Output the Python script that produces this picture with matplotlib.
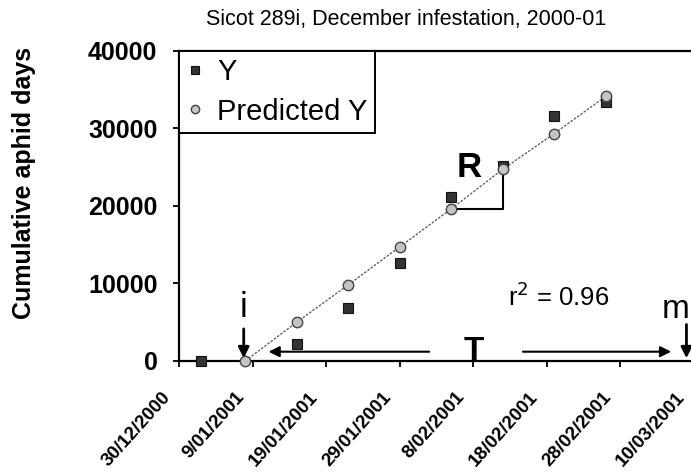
import matplotlib
matplotlib.use("Agg")
import matplotlib.pyplot as plt
import matplotlib.transforms as mtransforms
import pandas as pd

plt.rcParams['font.family'] = ['Liberation Sans', 'DejaVu Sans']

# ---- data ----
start_date = '30/12/2000'
obs_dates = ['2/01/2001', '15/01/2001', '22/01/2001', '29/01/2001',
             '5/02/2001', '12/02/2001', '19/02/2001', '26/02/2001']
obs_y = [0, 2140, 6870, 12590, 21170, 25130, 31570, 33410]
pred_dates = ['8/01/2001', '15/01/2001', '22/01/2001', '29/01/2001',
              '5/02/2001', '12/02/2001', '19/02/2001', '26/02/2001']
pred_y = [0, 5000, 9800, 14700, 19600, 24700, 29300, 34100]
tick_dates = ['30/12/2000', '9/01/2001', '19/01/2001', '29/01/2001',
              '8/02/2001', '18/02/2001', '28/02/2001', '10/03/2001']
y_ticks = [0, 10000, 20000, 30000, 40000]
title = 'Sicot 289i, December infestation, 2000-01'
y_label = 'Cumulative aphid days'
r2_text = 'r$^2$ = 0.96'

t0 = pd.to_datetime(start_date, dayfirst=True)
def days(lst):
    return [(pd.to_datetime(d, dayfirst=True) - t0).days for d in lst]

ox = days(obs_dates)
px = days(pred_dates)
tx = days(tick_dates)

W, H = 691, 475
fig = plt.figure(figsize=(W / 100, H / 100), dpi=100)
left, right, top, bottom = 179, 693.8, 50.7, 361
ax = fig.add_axes([left / W, 1 - bottom / H, (right - left) / W, (bottom - top) / H])

ax.plot(px, pred_y, linestyle=(0, (2, 1.2)), lw=0.9, color='#555555', zorder=2)
ax.plot(ox, obs_y, linestyle='none', marker='s', markersize=7.5,
        markerfacecolor='#333333', markeredgecolor='#111111', markeredgewidth=0.8,
        label='Y', clip_on=False, zorder=3)
ax.plot(px, pred_y, linestyle='none', marker='o', markersize=7.5,
        markerfacecolor='#c4c4c4', markeredgecolor='#444444', markeredgewidth=1,
        label='Predicted Y', clip_on=False, zorder=4)

ax.set_xlim(tx[0], tx[-1])
ax.set_ylim(y_ticks[0], y_ticks[-1])
ax.set_xticks(tx)
ax.set_xticklabels(tick_dates, rotation=48, ha='right', fontsize=13.5, fontweight='bold')
ax.set_yticks(y_ticks)
ax.set_yticklabels([str(v) for v in y_ticks], fontsize=18, fontweight='bold')
ax.tick_params(axis='x', length=4, width=1.3, pad=16, direction='out')
ax.tick_params(axis='y', length=4.5, width=1.3, pad=11, direction='out')
shift = mtransforms.ScaledTranslation(-5 / 100, 0, fig.dpi_scale_trans)
for lab in ax.get_xticklabels():
    lab.set_transform(lab.get_transform() + shift)

ax.spines['right'].set_visible(False)
for s in ['left', 'top', 'bottom']:
    ax.spines[s].set_linewidth(1.6)
    ax.spines[s].set_color('black')

leg = ax.legend(loc='upper left', bbox_to_anchor=(0, 1), borderaxespad=0,
                fontsize=21, fancybox=False, framealpha=1, edgecolor='black',
                handlelength=0.6, handletextpad=0.45, markerscale=0.8,
                borderpad=0.25, labelspacing=0.4)
leg.get_frame().set_linewidth(1.4)

# annotations
ax.annotate('', xy=(8.8, 0), xytext=(8.8, 4500),
            arrowprops=dict(arrowstyle='-|>', lw=2, color='black', mutation_scale=16))
ax.text(8.8, 5710, 'i', fontsize=25, ha='center', va='baseline')
ax.annotate('', xy=(69.0, 0), xytext=(69.0, 5060),
            arrowprops=dict(arrowstyle='-|>', lw=2, color='black', mutation_scale=16),
            annotation_clip=False)
ax.text(65.7, 5540, 'm', fontsize=24, ha='left', va='baseline', clip_on=False)
ax.annotate('', xy=(11.8, 1200), xytext=(34.4, 1200),
            arrowprops=dict(arrowstyle='-|>', lw=1.5, color='black', mutation_scale=16))
ax.annotate('', xy=(67.3, 1200), xytext=(46.4, 1200),
            arrowprops=dict(arrowstyle='-|>', lw=1.5, color='black', mutation_scale=16))
ax.text(40.05, 100, 'T', fontsize=24, fontweight='bold', ha='center', va='baseline')
ax.plot([37, 44, 44], [19650, 19650, 24600], color='black', lw=1.5, zorder=2.5)
ax.text(37.8, 23750, 'R', fontsize=25, fontweight='bold', ha='left', va='baseline')
ax.text(44.8, 7090, r2_text, fontsize=18.5, ha='left', va='baseline')

fig.text(406.5 / W, 1 - 20 / H, title, fontsize=15.5, ha='center', va='center')
fig.text(24 / W, 1 - 183 / H, y_label, fontsize=18, fontweight='bold',
         rotation=90, ha='center', va='center')

fig.savefig('out.png', dpi=100)
